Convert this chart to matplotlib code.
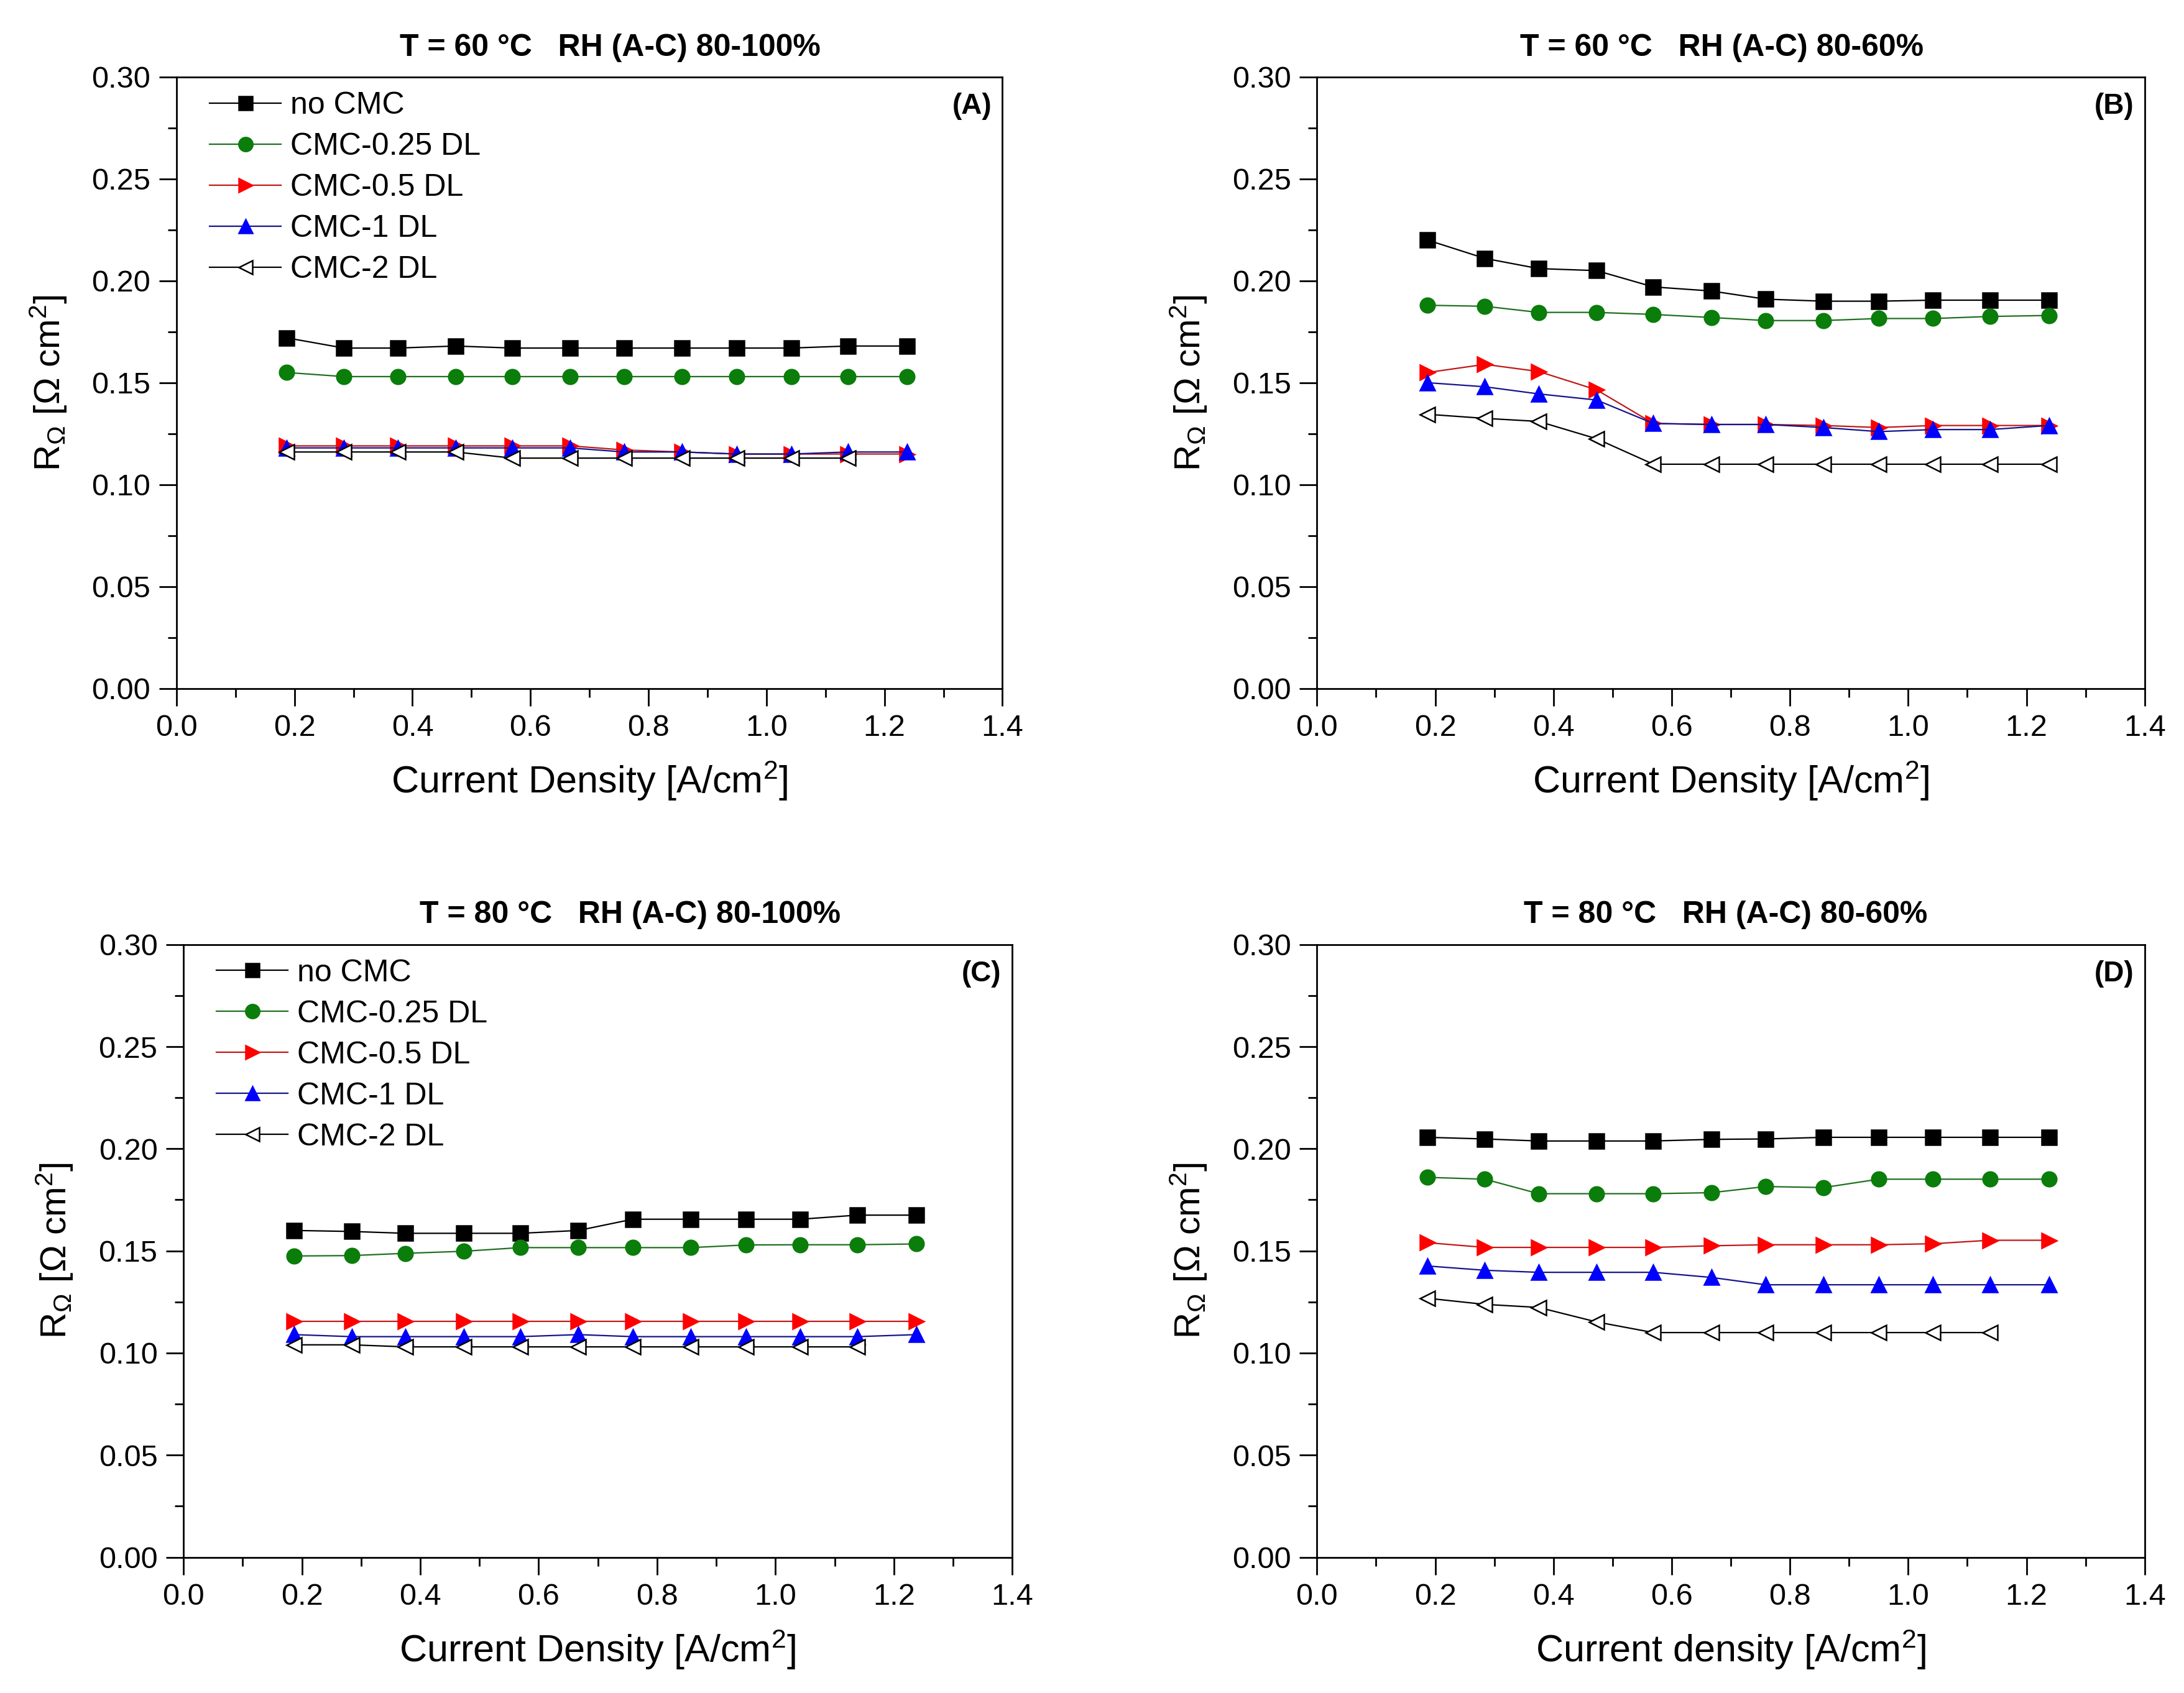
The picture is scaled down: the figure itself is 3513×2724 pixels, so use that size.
import matplotlib
matplotlib.use('Agg')
import matplotlib.pyplot as plt
from matplotlib.ticker import MultipleLocator, FormatStrFormatter

plt.rcParams['font.family'] = ['Liberation Sans', 'DejaVu Sans']
plt.rcParams['mathtext.fontset'] = 'custom'
plt.rcParams['mathtext.rm'] = 'Liberation Sans'
plt.rcParams['mathtext.it'] = 'Liberation Sans:italic'

# current density points (same for every panel)
current = [0.187, 0.284, 0.375, 0.473, 0.569, 0.667, 0.759, 0.857, 0.950, 1.042, 1.138, 1.238]

labels = ['no CMC', 'CMC-0.25 DL', 'CMC-0.5 DL', 'CMC-1 DL', 'CMC-2 DL']

# (A) T = 60 C, RH 80-100%
a_nocmc = [0.172, 0.167, 0.167, 0.168, 0.167, 0.167, 0.167, 0.167, 0.167, 0.167, 0.168, 0.168]
a_cmc025 = [0.155, 0.153, 0.153, 0.153, 0.153, 0.153, 0.153, 0.153, 0.153, 0.153, 0.153, 0.153]
a_cmc05 = [0.119, 0.119, 0.119, 0.119, 0.119, 0.119, 0.117, 0.116, 0.115, 0.115, 0.115, 0.115]
a_cmc1 = [0.118, 0.118, 0.118, 0.118, 0.118, 0.118, 0.116, 0.116, 0.115, 0.115, 0.116, 0.116]
a_cmc2 = [0.116, 0.116, 0.116, 0.116, 0.113, 0.113, 0.113, 0.113, 0.113, 0.113, 0.113]

# (B) T = 60 C, RH 80-60%
b_nocmc = [0.220, 0.211, 0.206, 0.205, 0.197, 0.195, 0.191, 0.190, 0.190, 0.1905, 0.1905, 0.1905]
b_cmc025 = [0.188, 0.1875, 0.1845, 0.1845, 0.1835, 0.182, 0.1805, 0.1805, 0.1815, 0.1815, 0.1825, 0.183]
b_cmc05 = [0.155, 0.159, 0.1555, 0.1465, 0.130, 0.1295, 0.1295, 0.129, 0.128, 0.129, 0.129, 0.129]
b_cmc1 = [0.150, 0.148, 0.1445, 0.1415, 0.130, 0.1295, 0.1295, 0.128, 0.126, 0.127, 0.127, 0.129]
b_cmc2 = [0.1345, 0.1325, 0.131, 0.1225, 0.110, 0.110, 0.110, 0.110, 0.110, 0.110, 0.110, 0.110]

# (C) T = 80 C, RH 80-100%
c_nocmc = [0.160, 0.1595, 0.1586, 0.1586, 0.1586, 0.160, 0.1655, 0.1655, 0.1655, 0.1655, 0.1675, 0.1675]
c_cmc025 = [0.1475, 0.1477, 0.1488, 0.1498, 0.1516, 0.1516, 0.1516, 0.1516, 0.1529, 0.153, 0.153, 0.1534]
c_cmc05 = [0.1155, 0.1155, 0.1155, 0.1155, 0.1155, 0.1155, 0.1155, 0.1155, 0.1155, 0.1155, 0.1155, 0.1155]
c_cmc1 = [0.109, 0.108, 0.108, 0.108, 0.108, 0.109, 0.108, 0.108, 0.108, 0.108, 0.108, 0.109]
c_cmc2 = [0.104, 0.104, 0.103, 0.103, 0.103, 0.103, 0.103, 0.103, 0.103, 0.103, 0.103]

# (D) T = 80 C, RH 80-60%
d_nocmc = [0.2056, 0.2048, 0.2038, 0.2038, 0.2038, 0.2046, 0.2048, 0.2056, 0.2056, 0.2056, 0.2056, 0.2056]
d_cmc025 = [0.186, 0.1851, 0.178, 0.178, 0.178, 0.1785, 0.1815, 0.181, 0.1851, 0.1851, 0.1851, 0.1851]
d_cmc05 = [0.154, 0.1517, 0.1517, 0.1517, 0.1517, 0.1525, 0.153, 0.153, 0.153, 0.1535, 0.1552, 0.1552]
d_cmc1 = [0.1426, 0.1405, 0.1395, 0.1395, 0.1395, 0.137, 0.1334, 0.1334, 0.1334, 0.1334, 0.1334, 0.1334]
d_cmc2 = [0.1268, 0.1238, 0.1223, 0.1152, 0.110, 0.110, 0.110, 0.110, 0.110, 0.110, 0.110]

titles = ['T = 60 \u00b0C   RH (A-C) 80-100%', 'T = 60 \u00b0C   RH (A-C) 80-60%',
          'T = 80 \u00b0C   RH (A-C) 80-100%', 'T = 80 \u00b0C   RH (A-C) 80-60%']
letters = ['(A)', '(B)', '(C)', '(D)']
xlabels = ['Current Density [A/cm$^2$]', 'Current Density [A/cm$^2$]',
           'Current Density [A/cm$^2$]', 'Current density [A/cm$^2$]']

# style for each series: marker, marker face, marker edge, line colour
styles = [
    dict(marker='s', mfc='black', mec='black', color='black'),
    dict(marker='o', mfc='#0a7d0a', mec='#0a7d0a', color='#1f6f1f'),
    dict(marker='>', mfc='#ff0000', mec='#ff0000', color='#c01818'),
    dict(marker='^', mfc='#0000ff', mec='#0000ff', color='#14148c'),
    dict(marker='<', mfc='white', mec='black', color='black'),
]

panels = [
    [a_nocmc, a_cmc025, a_cmc05, a_cmc1, a_cmc2],
    [b_nocmc, b_cmc025, b_cmc05, b_cmc1, b_cmc2],
    [c_nocmc, c_cmc025, c_cmc05, c_cmc1, c_cmc2],
    [d_nocmc, d_cmc025, d_cmc05, d_cmc1, d_cmc2],
]

# axes boxes in figure fraction [left, bottom, width, height]
boxes = [
    [0.0808, 0.5934, 0.3782, 0.3611],
    [0.6030, 0.5934, 0.3790, 0.3611],
    [0.0840, 0.0802, 0.3795, 0.3619],
    [0.6030, 0.0802, 0.3790, 0.3619],
]
title_x = [0.525, 0.489, 0.539, 0.494]
show_legend = [True, False, True, False]

fig = plt.figure(figsize=(35.13, 27.24), dpi=100)

for i in range(4):
    ax = fig.add_axes(boxes[i])
    for j, series in enumerate(panels[i]):
        st = styles[j]
        ax.plot(current[:len(series)], series, marker=st['marker'], markersize=17,
                markerfacecolor=st['mfc'], markeredgecolor=st['mec'], markeredgewidth=1.8,
                color=st['color'], linewidth=1.6, label=labels[j])

    ax.set_xlim(0.0, 1.4)
    ax.set_ylim(0.0, 0.30)
    ax.xaxis.set_major_locator(MultipleLocator(0.2))
    ax.xaxis.set_minor_locator(MultipleLocator(0.1))
    ax.yaxis.set_major_locator(MultipleLocator(0.05))
    ax.yaxis.set_minor_locator(MultipleLocator(0.025))
    ax.xaxis.set_major_formatter(FormatStrFormatter('%.1f'))
    ax.yaxis.set_major_formatter(FormatStrFormatter('%.2f'))
    ax.tick_params(which='both', direction='out', width=2, top=False, right=False)
    ax.tick_params(which='major', length=20, labelsize=35, pad=10)
    ax.tick_params(which='minor', length=10)
    for sp in ax.spines.values():
        sp.set_linewidth(2)

    ax.set_xlabel(xlabels[i], fontsize=44)
    ax.xaxis.set_label_coords(0.5, -0.151)
    ax.xaxis.label.set_va('center')
    ax.set_ylabel(r'R$_\Omega$ [$\Omega$ cm$^2$]', fontsize=42)
    ax.yaxis.set_label_coords(-0.155, 0.5)
    ax.yaxis.label.set_va('center')

    ax.text(title_x[i], 1.048, titles[i], transform=ax.transAxes, ha='center', va='center',
            fontsize=36, fontweight='bold')
    ax.text(0.963, 0.952, letters[i], transform=ax.transAxes, ha='center', va='center',
            fontsize=33, fontweight='bold')

    if show_legend[i]:
        ax.legend(loc='upper left', bbox_to_anchor=(0.01, 1.017), frameon=False, fontsize=36,
                  handlelength=2.3, handletextpad=0.3, labelspacing=0.4, borderpad=0.3,
                  markerscale=0.95)

fig.savefig('out.png', dpi=100)
